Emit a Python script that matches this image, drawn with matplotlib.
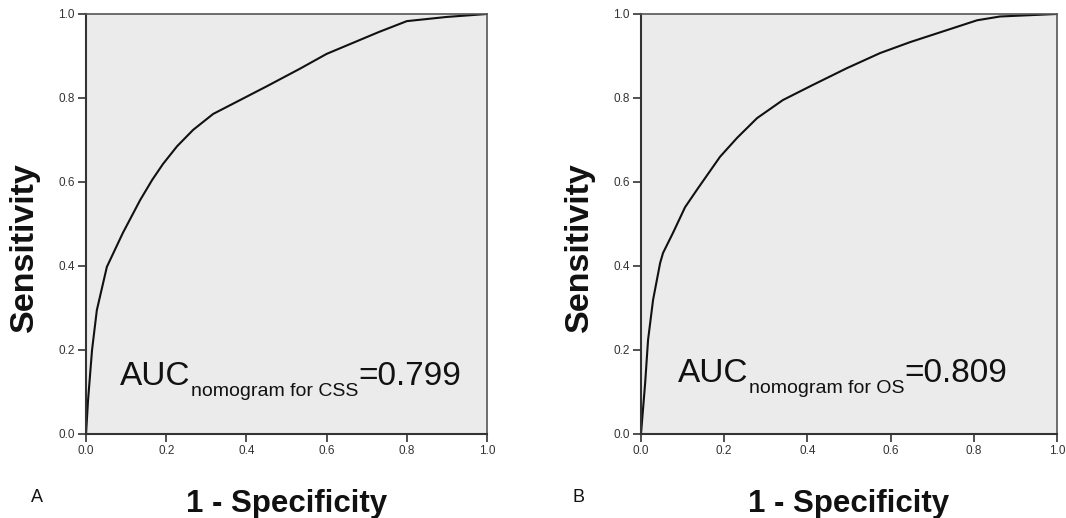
import matplotlib.pyplot as plt
import numpy as np

plt.rcParams['font.family'] = 'Liberation Sans'

# ROC curve for cancer-specific survival nomogram
fpr_css = [0, 0.005, 0.015, 0.027, 0.052, 0.092, 0.135, 0.165, 0.192, 0.227,
           0.267, 0.317, 0.384, 0.451, 0.534, 0.6, 0.73, 0.8, 0.9, 1.0]
tpr_css = [0, 0.08, 0.2, 0.295, 0.398, 0.479, 0.557, 0.605, 0.643, 0.685,
           0.724, 0.762, 0.795, 0.828, 0.870, 0.905, 0.957, 0.983, 0.993, 1.0]

# ROC curve for overall survival nomogram
fpr_os = [0, 0.01, 0.017, 0.029, 0.046, 0.053, 0.077, 0.106, 0.137, 0.19,
          0.231, 0.279, 0.341, 0.413, 0.495, 0.575, 0.647, 0.808, 0.863, 1.0]
tpr_os = [0, 0.121, 0.224, 0.319, 0.407, 0.431, 0.479, 0.540, 0.585, 0.66,
          0.705, 0.752, 0.795, 0.831, 0.871, 0.907, 0.933, 0.985, 0.994, 1.0]

auc_css = 0.799
auc_os = 0.809
ticks = [0.0, 0.2, 0.4, 0.6, 0.8, 1.0]

fig = plt.figure(figsize=(10.66, 5.18), dpi=100)
ax_a = fig.add_axes([0.0807, 0.1622, 0.3762, 0.8108])
ax_b = fig.add_axes([0.6013, 0.1622, 0.3902, 0.8108])

# axes, curve, subscript, auc, panel letter, letter x, ylabel x, text anchor
panels = [
    (ax_a, fpr_css, tpr_css, 'nomogram for CSS', auc_css, 'A', 0.029, -0.115, (0.085, 0.117)),
    (ax_b, fpr_os, tpr_os, 'nomogram for OS', auc_os, 'B', 0.537, -0.110, (0.089, 0.124)),
]

for ax, fpr, tpr, sub, auc, letter, letter_x, ylab_x, (tx, ty) in panels:
    ax.plot(fpr, tpr, color='#111111', linewidth=1.5, solid_joinstyle='round')
    ax.set_xlim(0, 1)
    ax.set_ylim(0, 1)
    ax.set_facecolor('#ebebeb')
    ax.set_xticks(ticks)
    ax.set_yticks(ticks)
    ax.set_xticklabels([f'{t:.1f}' for t in ticks])
    ax.set_yticklabels([f'{t:.1f}' for t in ticks])
    ax.tick_params(direction='out', length=6, width=1.2, colors='#333333',
                   labelsize=8.5, pad=2)
    for side in ['left', 'bottom']:
        ax.spines[side].set_color('#333333')
        ax.spines[side].set_linewidth(1.5)
    for side in ['top', 'right']:
        ax.spines[side].set_color('#555555')
        ax.spines[side].set_linewidth(1.2)

    # AUC label built from three pieces: main text, lowered subscript, value
    t1 = ax.text(tx, ty, 'AUC', transform=ax.transAxes, fontsize=24,
                 ha='left', va='baseline', color='#111111')
    t2 = ax.annotate(sub, xy=(1, ty - 0.026), xycoords=(t1, 'axes fraction'),
                     fontsize=14, ha='left', va='baseline', color='#111111')
    ax.annotate(f'={auc:.3f}', xy=(1, ty), xycoords=(t2, 'axes fraction'),
                fontsize=24, ha='left', va='baseline', color='#111111')

    ax.set_ylabel('Sensitivity', fontsize=24.5, fontweight='bold', color='#111111')
    ax.yaxis.set_label_coords(ylab_x, 0.445)
    ax.set_xlabel('1 - Specificity', fontsize=22.5, fontweight='bold', color='#111111')
    ax.xaxis.set_label_coords(0.5, -0.13)

    fig.text(letter_x, 0.04, letter, fontsize=13, ha='left', va='center',
             color='#111111')

fig.savefig('out.png', dpi=100)
